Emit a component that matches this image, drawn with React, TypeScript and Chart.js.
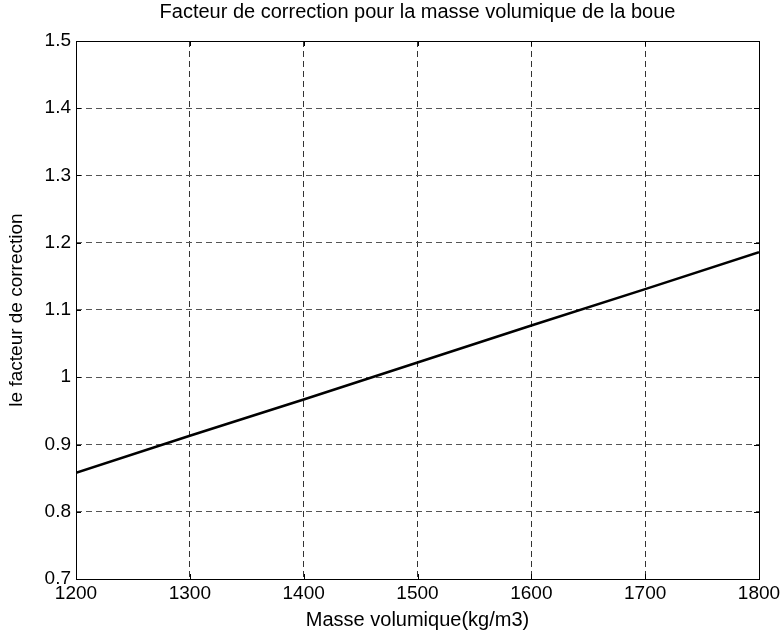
import React, { useEffect, useRef } from "react";
import { Chart, registerables } from "chart.js";

Chart.register(...registerables);

const titleText = "Facteur de correction pour la masse volumique de la boue";
const xTitle = "Masse volumique(kg/m3)";
const yTitle = "le facteur de correction";

const densities = [1200, 1300, 1400, 1500, 1600, 1700, 1800];
const factors = [0.858, 0.913, 0.967, 1.022, 1.077, 1.131, 1.186];

const xMin = 1200, xMax = 1800, xStep = 100;
const yMin = 0.7, yMax = 1.5, yStep = 0.1;

const FONT = "Arial, 'Liberation Sans', Helvetica, sans-serif";
const FS = 19;

const centerTitle = {
  id: "centerTitle",
  afterLayout(chart: any) {
    const t = chart.titleBlock;
    if (t) {
      t.left = chart.chartArea.left;
      t.right = chart.chartArea.right;
    }
  },
};

const frame = {
  id: "frame",
  afterDatasetsDraw(chart: any) {
    const { ctx, chartArea: a, scales } = chart;
    ctx.save();
    ctx.strokeStyle = "#000";
    ctx.lineWidth = 1;
    ctx.setLineDash([]);
    ctx.strokeRect(Math.round(a.left) + 0.5, Math.round(a.top) + 0.5, Math.round(a.right - a.left), Math.round(a.bottom - a.top));
    const tl = 5;
    ctx.beginPath();
    scales.x.ticks.forEach((t: any) => {
      const px = Math.round(scales.x.getPixelForValue(t.value)) + 0.5;
      ctx.moveTo(px, a.bottom); ctx.lineTo(px, a.bottom - tl);
      ctx.moveTo(px, a.top); ctx.lineTo(px, a.top + tl);
    });
    scales.y.ticks.forEach((t: any) => {
      const py = Math.round(scales.y.getPixelForValue(t.value)) + 0.5;
      ctx.moveTo(a.left, py); ctx.lineTo(a.left + tl, py);
      ctx.moveTo(a.right, py); ctx.lineTo(a.right - tl, py);
    });
    ctx.stroke();
    ctx.restore();
  },
};

export default function App() {
  const ref = useRef<HTMLCanvasElement>(null);
  useEffect(() => {
    document.body.style.margin = "0";
    const chart = new Chart(ref.current as HTMLCanvasElement, {
      type: "line",
      data: {
        datasets: [
          {
            data: densities.map((x, i) => ({ x, y: factors[i] })),
            borderColor: "#000",
            borderWidth: 2.5,
            pointRadius: 0,
            tension: 0,
            fill: false,
          },
        ],
      },
      options: {
        responsive: false,
        animation: false,
        layout: { padding: { left: 0, right: 25, top: 0, bottom: 0 } },
        plugins: {
          legend: { display: false },
          tooltip: { enabled: false },
          title: {
            display: true,
            text: titleText,
            color: "#000",
            font: { family: FONT, size: 20, weight: "normal", lineHeight: 1.2 },
            padding: { top: 0, bottom: 17 },
          },
        },
        scales: {
          x: {
            type: "linear",
            min: xMin,
            max: xMax,
            afterFit: (s: any) => { s.height = 58; },
            ticks: {
              stepSize: xStep,
              color: "#000",
              font: { family: FONT, size: FS },
              padding: 3,
              maxRotation: 0,
              callback: (v: any) => String(v),
            },
            grid: { color: "#333", drawTicks: false, lineWidth: 1 },
            border: { display: false, dash: [6, 4] },
            title: { display: true, text: xTitle, color: "#000", font: { family: FONT, size: 20 }, padding: { top: 0, bottom: 5 } },
          },
          y: {
            type: "linear",
            min: yMin,
            max: yMax,
            afterFit: (s: any) => { s.width = 76; },
            ticks: {
              stepSize: yStep,
              color: "#000",
              font: { family: FONT, size: FS },
              padding: 5,
              callback: (v: any) => String(Number(Number(v).toFixed(1))),
            },
            grid: { color: "#555", drawTicks: false, lineWidth: 1 },
            border: { display: false, dash: [6, 4] },
            title: { display: true, text: yTitle, color: "#000", font: { family: FONT, size: FS }, padding: { top: 5, bottom: 0 } },
          },
        },
      },
      plugins: [centerTitle, frame],
    } as any);
    return () => chart.destroy();
  }, []);
  return (
    <div style={{ position: "absolute", left: 0, top: 0, width: 784, height: 637, background: "#fff" }}>
      <canvas ref={ref} width={784} height={637} />
    </div>
  );
}
